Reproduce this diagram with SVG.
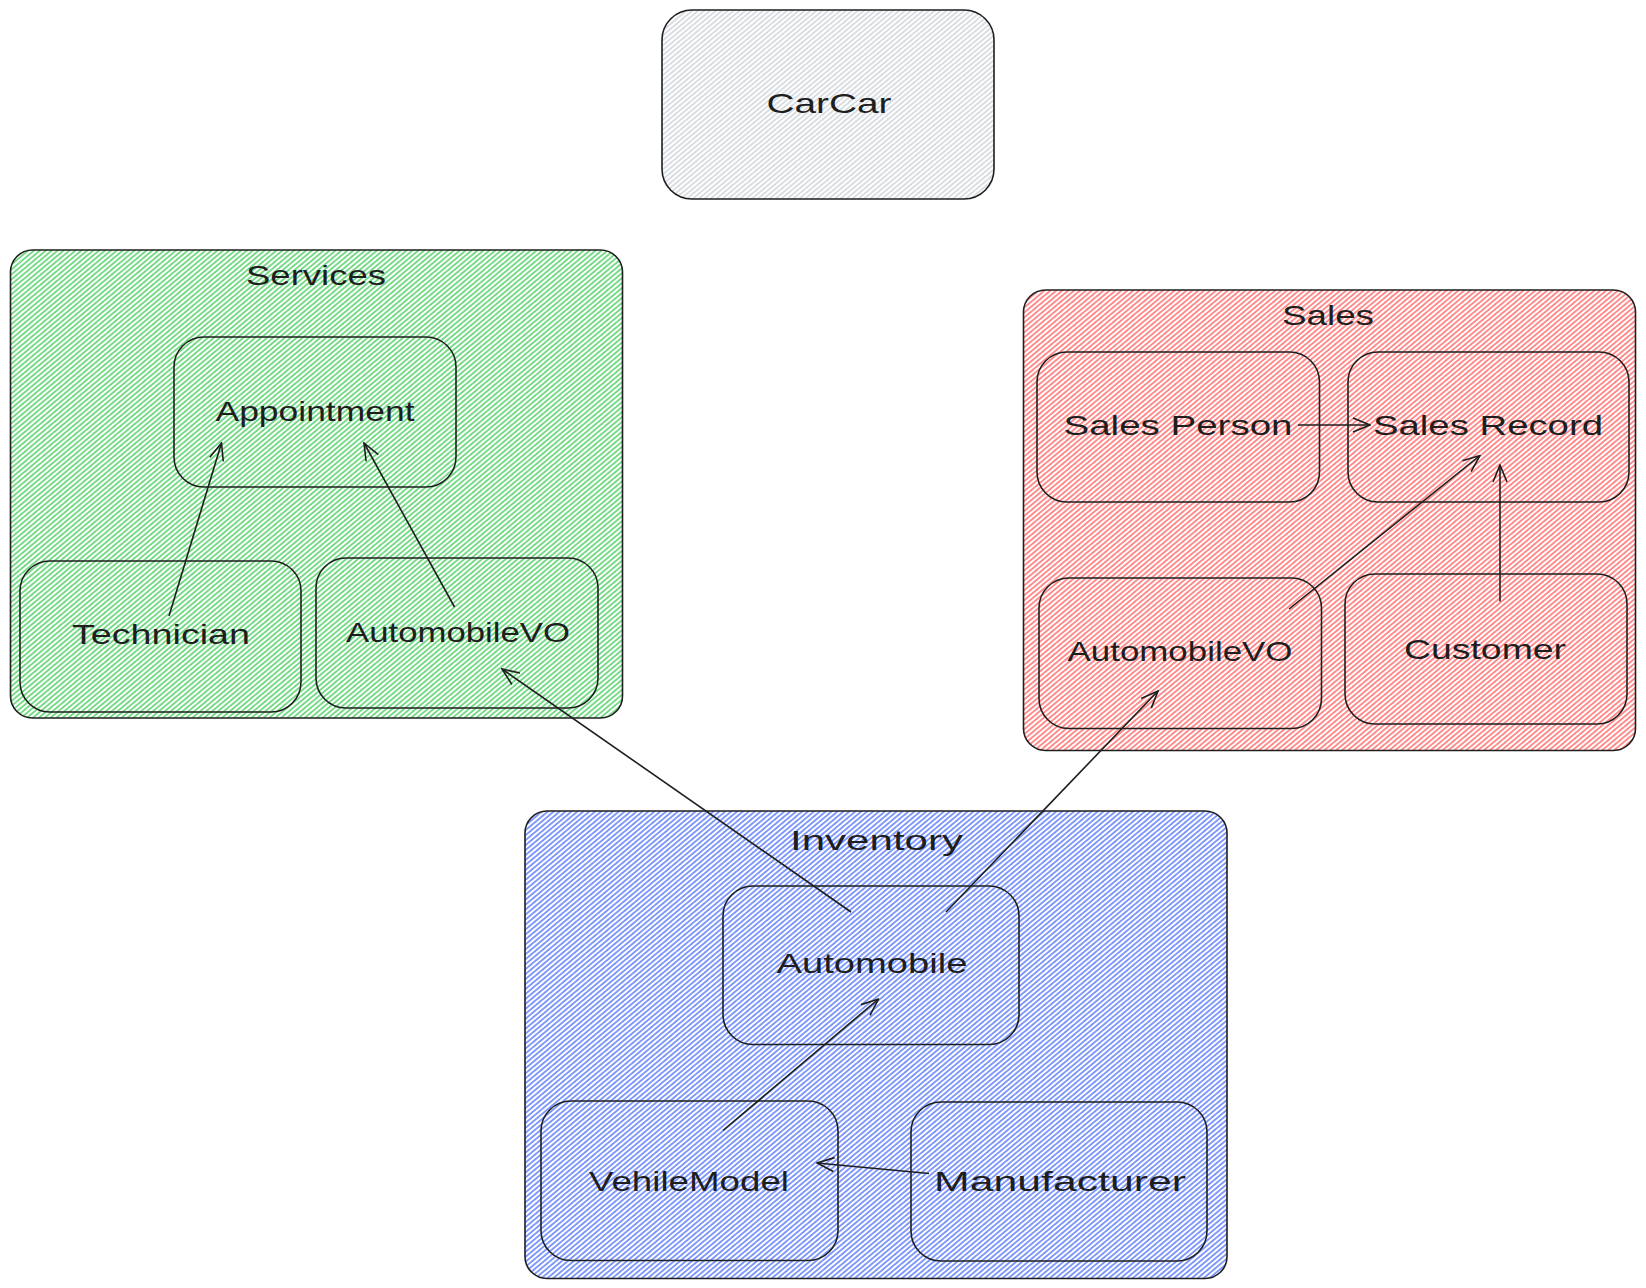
<svg xmlns="http://www.w3.org/2000/svg" width="1646" height="1288" viewBox="0 0 1646 1288">
  <style>
    .box { stroke: #1e1e1e; stroke-width: 1.6; }
    .node { stroke: #1e1e1e; stroke-width: 1.6; fill: none; }
    .lbl { font-family: "Liberation Sans", Arial, sans-serif; font-size: 28px; fill: #1e1e1e; text-anchor: middle; dominant-baseline: central; }
    .conn { stroke: #1e1e1e; stroke-width: 1.6; fill: none; marker-end: url(#arrow); }
  </style>
  <defs>
    <pattern id="hGreen" patternUnits="userSpaceOnUse" width="3.8" height="10" patternTransform="rotate(50)">
      <line x1="1" y1="0" x2="1" y2="10" stroke="#51cf66" stroke-width="1.5"/>
    </pattern>
    <pattern id="hRed" patternUnits="userSpaceOnUse" width="3.8" height="10" patternTransform="rotate(50)">
      <line x1="1" y1="0" x2="1" y2="10" stroke="#ff6b6b" stroke-width="1.5"/>
    </pattern>
    <pattern id="hBlue" patternUnits="userSpaceOnUse" width="3.8" height="10" patternTransform="rotate(50)">
      <line x1="1" y1="0" x2="1" y2="10" stroke="#5c7cfa" stroke-width="1.5"/>
    </pattern>
    <pattern id="hGray" patternUnits="userSpaceOnUse" width="3.8" height="10" patternTransform="rotate(50)">
      <line x1="1" y1="0" x2="1" y2="10" stroke="#ced4da" stroke-width="1.5"/>
    </pattern>
    <marker id="arrow" viewBox="0 0 20 20" refX="19" refY="10" markerWidth="20" markerHeight="20" markerUnits="userSpaceOnUse" orient="auto">
      <path d="M2,3 L19,10 L2,17" fill="none" stroke="#1e1e1e" stroke-width="1.6"/>
    </marker>
  </defs>
  <rect width="1646" height="1288" fill="#ffffff"/>

  <g id="carcar">
    <rect class="box" x="662" y="10" width="332" height="189" rx="30" fill="url(#hGray)"/>
    <text class="lbl" x="829" y="103" textLength="125" lengthAdjust="spacingAndGlyphs">CarCar</text>
  </g>

  <g id="services">
    <rect class="box" x="10.5" y="250" width="612" height="468" rx="22" fill="url(#hGreen)"/>
    <text class="lbl" x="316" y="275" textLength="140" lengthAdjust="spacingAndGlyphs">Services</text>
  </g>
  <g id="appointment">
    <rect class="node" x="174" y="337" width="282" height="150" rx="30"/>
    <text class="lbl" x="315" y="411" textLength="199" lengthAdjust="spacingAndGlyphs">Appointment</text>
  </g>
  <g id="technician">
    <rect class="node" x="20" y="561" width="281" height="151" rx="30"/>
    <text class="lbl" x="161" y="634" textLength="178" lengthAdjust="spacingAndGlyphs">Technician</text>
  </g>
  <g id="services-automobilevo">
    <rect class="node" x="316" y="558" width="282" height="150" rx="30"/>
    <text class="lbl" x="458" y="632" textLength="224" lengthAdjust="spacingAndGlyphs">AutomobileVO</text>
  </g>

  <g id="sales">
    <rect class="box" x="1023.5" y="290" width="612" height="460.5" rx="22" fill="url(#hRed)"/>
    <text class="lbl" x="1328" y="315" textLength="92" lengthAdjust="spacingAndGlyphs">Sales</text>
  </g>
  <g id="sales-person">
    <rect class="node" x="1037" y="352" width="282.5" height="150" rx="30"/>
    <text class="lbl" x="1178" y="425" textLength="229" lengthAdjust="spacingAndGlyphs">Sales Person</text>
  </g>
  <g id="sales-record">
    <rect class="node" x="1348" y="352" width="281" height="150" rx="30"/>
    <text class="lbl" x="1488" y="425" textLength="230" lengthAdjust="spacingAndGlyphs">Sales Record</text>
  </g>
  <g id="sales-automobilevo">
    <rect class="node" x="1039" y="578" width="282.5" height="150.5" rx="30"/>
    <text class="lbl" x="1180" y="651" textLength="225" lengthAdjust="spacingAndGlyphs">AutomobileVO</text>
  </g>
  <g id="customer">
    <rect class="node" x="1345" y="574" width="282" height="150" rx="30"/>
    <text class="lbl" x="1485" y="649" textLength="162" lengthAdjust="spacingAndGlyphs">Customer</text>
  </g>

  <g id="inventory">
    <rect class="box" x="525" y="811" width="702" height="467.5" rx="22" fill="url(#hBlue)"/>
    <text class="lbl" x="876.5" y="840" textLength="173" lengthAdjust="spacingAndGlyphs">Inventory</text>
  </g>
  <g id="automobile">
    <rect class="node" x="723" y="886" width="296" height="158.5" rx="30"/>
    <text class="lbl" x="872" y="963" textLength="191" lengthAdjust="spacingAndGlyphs">Automobile</text>
  </g>
  <g id="vehilemodel">
    <rect class="node" x="541" y="1101" width="297" height="159.5" rx="30"/>
    <text class="lbl" x="689" y="1181" textLength="200" lengthAdjust="spacingAndGlyphs">VehileModel</text>
  </g>
  <g id="manufacturer">
    <rect class="node" x="911" y="1102" width="296" height="159" rx="30"/>
    <text class="lbl" x="1060" y="1181" textLength="252" lengthAdjust="spacingAndGlyphs">Manufacturer</text>
  </g>

  <g id="connectors">
    <line class="conn" x1="169" y1="616" x2="221.5" y2="443"/>
    <line class="conn" x1="454.5" y1="607" x2="364" y2="443"/>
    <line class="conn" x1="851" y1="912" x2="502" y2="669"/>
    <line class="conn" x1="946" y1="912" x2="1158" y2="691"/>
    <line class="conn" x1="1298" y1="425" x2="1370" y2="425"/>
    <line class="conn" x1="1289" y1="609" x2="1480" y2="455.5"/>
    <line class="conn" x1="1500" y1="601.5" x2="1500" y2="465"/>
    <line class="conn" x1="723" y1="1130.5" x2="878.5" y2="999"/>
    <line class="conn" x1="929" y1="1173.5" x2="817" y2="1163"/>
  </g>
</svg>
